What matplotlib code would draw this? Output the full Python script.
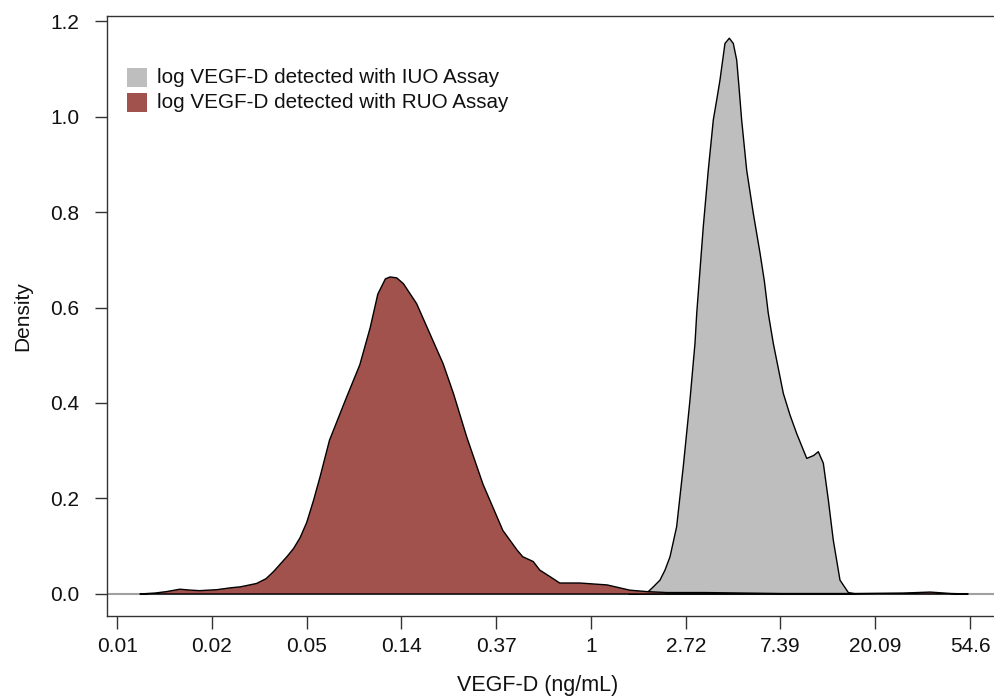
import matplotlib
matplotlib.use("Agg")
import matplotlib.pyplot as plt
from matplotlib.patches import Rectangle

plt.rcParams['font.family'] = ['Liberation Sans', 'DejaVu Sans']

# ---- data (x in natural-log units of VEGF-D, y = density) ----
iuo_x = [0.40, 0.50, 0.605, 0.658, 0.728, 0.781, 0.834, 0.904, 0.974, 1.045, 1.098, 1.116,
         1.185, 1.238, 1.291, 1.327, 1.361, 1.414, 1.46, 1.502, 1.538, 1.562, 1.59, 1.643,
         1.713, 1.784, 1.83, 1.871, 1.924, 2.03, 2.10, 2.171, 2.277, 2.35, 2.399, 2.452,
         2.505, 2.557, 2.628, 2.716, 2.80]
iuo_y = [0.000, 0.001, 0.005, 0.015, 0.029, 0.050, 0.078, 0.141, 0.267, 0.407, 0.526, 0.588,
         0.769, 0.888, 0.993, 1.035, 1.076, 1.153, 1.164, 1.153, 1.118, 1.062, 0.993, 0.888,
         0.797, 0.714, 0.655, 0.588, 0.525, 0.420, 0.375, 0.336, 0.284, 0.290, 0.298, 0.274,
         0.197, 0.113, 0.029, 0.003, 0.000]

ruo_x = [-4.76, -4.60, -4.48, -4.34, -4.22, -4.13, -3.95, -3.80, -3.70, -3.53, -3.43,
         -3.35, -3.21, -3.14, -3.07, -3.00, -2.93, -2.86, -2.76, -2.58, -2.44, -2.33,
         -2.25, -2.17, -2.12, -2.05, -1.98, -1.84, -1.70, -1.56, -1.45, -1.31, -1.14,
         -0.93, -0.78, -0.72, -0.61, -0.54, -0.43, -0.33, -0.12, 0.17, 0.41, 0.59, 0.80,
         1.20, 1.60, 2.00, 2.80, 3.30, 3.58, 3.80, 3.98]
ruo_y = [0.000, 0.002, 0.005, 0.010, 0.008, 0.007, 0.009, 0.013, 0.015, 0.022, 0.032,
         0.047, 0.078, 0.095, 0.118, 0.150, 0.195, 0.245, 0.322, 0.412, 0.480, 0.558,
         0.628, 0.660, 0.664, 0.662, 0.650, 0.608, 0.545, 0.482, 0.419, 0.328, 0.230,
         0.133, 0.092, 0.078, 0.068, 0.050, 0.036, 0.023, 0.023, 0.019, 0.008, 0.005, 0.003,
         0.003, 0.002, 0.001, 0.001, 0.002, 0.004, 0.001, 0.000]

x_ticks = [-5, -4, -3, -2, -1, 0, 1, 2, 3, 4]
x_tick_labels = ['0.01', '0.02', '0.05', '0.14', '0.37', '1', '2.72', '7.39', '20.09', '54.6']
y_ticks = [0.0, 0.2, 0.4, 0.6, 0.8, 1.0, 1.2]
y_tick_labels = ['0.0', '0.2', '0.4', '0.6', '0.8', '1.0', '1.2']

series_labels = ['log VEGF-D detected with IUO Assay', 'log VEGF-D detected with RUO Assay']
gray_col = '#BEBEBE'
brown_col = '#A1524C'

W, H = 995, 698
fig = plt.figure(figsize=(W / 100, H / 100), dpi=100)
ax = fig.add_axes([107 / W, (H - 616) / H, (997 - 107) / W, (616 - 16) / H])

ax.set_xlim(-5.108, 4.285)
ax.set_ylim(-0.0461, 1.2105)

ax.axhline(0, color='#A0A0A0', lw=1.5, zorder=1)
ax.fill(iuo_x, iuo_y, facecolor=gray_col, edgecolor='black', lw=1.0, zorder=2,
        joinstyle='round')
ax.fill(ruo_x, ruo_y, facecolor=brown_col, edgecolor='black', lw=1.0, zorder=3,
        joinstyle='round')

ax.set_xticks(x_ticks)
ax.set_xticklabels(x_tick_labels)
ax.set_yticks(y_ticks)
ax.set_yticklabels(y_tick_labels)
ax.tick_params(axis='both', length=9, width=1.0, color='#333333', labelsize=15,
               labelcolor='#111111', direction='out')
ax.tick_params(axis='x', pad=6)
ax.tick_params(axis='y', pad=11)
for s in ax.spines.values():
    s.set_color('#333333')
    s.set_linewidth(1.0)

ax.set_xlabel('VEGF-D (ng/mL)', fontsize=15.5, color='#111111')
ax.xaxis.set_label_coords((537.5 - 107) / (997 - 107), -(685 - 616) / 600, transform=ax.transAxes)
ax.xaxis.label.set_va('center')
ax.set_ylabel('Density', fontsize=15, color='#111111')
ax.yaxis.set_label_coords(-(107 - 23) / (997 - 107), 0.5)
ax.yaxis.label.set_va('center')

# legend
for i, (lab, col) in enumerate(zip(series_labels, [gray_col, brown_col])):
    top = 68 + 25 * i
    fig.add_artist(Rectangle((127 / W, (H - top - 19) / H), 20 / W, 19 / H,
                             transform=fig.transFigure, facecolor=col, edgecolor='none'))
    fig.text(157 / W, (H - top - 9.5) / H, lab, fontsize=14.9, color='#111111',
             va='center', ha='left')

fig.savefig('out.png', dpi=100)
